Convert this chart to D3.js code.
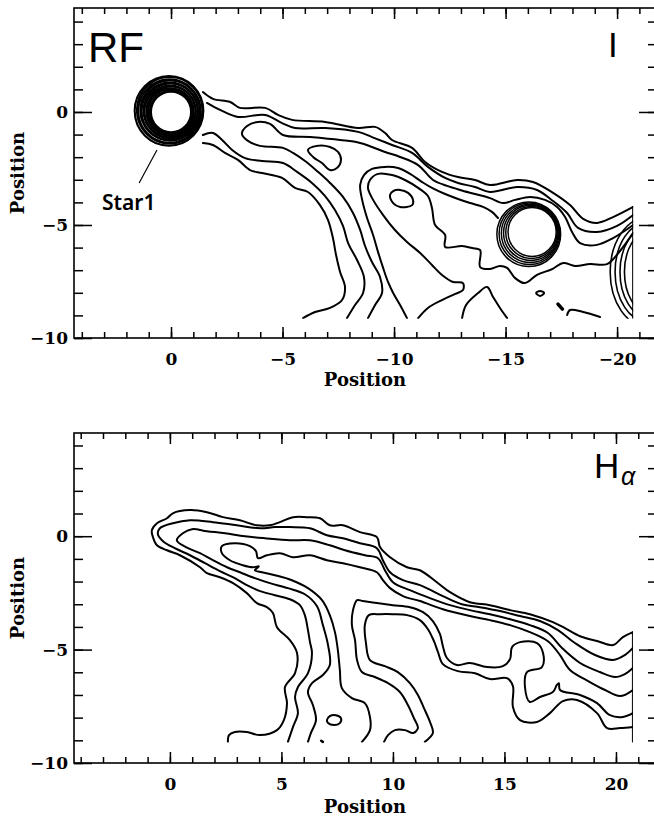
<!DOCTYPE html>
<html>
<head>
<meta charset="utf-8">
<script src="https://cdn.jsdelivr.net/npm/d3@7"></script>
<style>
  body { margin: 0; background: #fff; }
</style>
</head>
<body>
<svg id="chart" width="654" height="819"></svg>
<script>
// ---------- shared axis values ----------
const yTicks = [-10, -5, 0];
const iXTicks = [0, -5, -10, -15, -20];
const haXTicks = [0, 5, 10, 15, 20];

// ---------- upper panel (I) : contours in position units ----------
// star rings: [x, y, r]
const iStar1Rings = [[0,0,0.90],[0,0,0.95],[0.02,0.02,1.00],[0.03,0,1.05],[0,0.03,1.10],[0.04,0.02,1.15],
  [0.02,0.05,1.21],[0.05,0.03,1.27],[0.04,0.06,1.33],[0.07,0.04,1.40],[0.06,0.08,1.47],[0.09,0.05,1.54]];
const iStar2Rings = [[-16.19,-5.31,1.08],[-16.16,-5.33,1.15],[-16.13,-5.35,1.22],[-16.10,-5.37,1.29],
  [-16.07,-5.39,1.36],[-16.04,-5.41,1.43]];
// partly hidden source at the right edge: [x, y, rx, ry]
const iEdgeRings = [[-21.39,-7.08,1.70,2.43],[-21.39,-7.08,1.48,2.21],[-21.39,-7.08,1.26,1.99],[-21.39,-7.08,1.06,1.77]];

const iLine1 = [[-1.43,0.88],[-1.88,0.58],[-2.65,0.44],[-3.09,0.18],[-4.22,0.18],[-4.80,-0.13],[-5.43,-0.35],
  [-6.91,-0.44],[-8.39,-0.71],[-9.15,-0.66],[-9.60,-0.93],[-9.91,-1.24],[-10.81,-1.59],[-11.39,-2.21],
  [-12.15,-2.65],[-12.87,-2.88],[-13.63,-3.01],[-14.30,-3.23],[-15.52,-3.01],[-16.23,-3.10],[-17.13,-3.58],
  [-17.89,-4.12],[-18.48,-4.73],[-19.10,-4.91],[-19.82,-4.65],[-20.72,-4.20]];
const iLine2 = [[-1.61,0.40],[-2.20,0.09],[-3.00,-0.22],[-4.22,-0.13],[-4.98,-0.49],[-5.56,-0.71],[-6.91,-0.71],
  [-8.39,-0.88],[-9.01,-1.11],[-9.91,-1.46],[-10.81,-1.81],[-11.52,-2.43],[-12.29,-2.92],[-12.87,-3.14],
  [-13.63,-3.32],[-14.30,-3.54],[-15.52,-3.32],[-16.41,-3.45],[-17.13,-3.94],[-17.76,-4.47],[-18.25,-5.13],
  [-19.10,-5.31],[-20.00,-5.04],[-20.72,-4.56]];
const iTongue = [[-8.83,-9.12],[-9.15,-8.54],[-9.46,-8.01],[-9.37,-7.30],[-9.01,-6.64],[-8.70,-5.93],[-8.48,-5.22],
  [-8.16,-4.47],[-7.71,-3.76],[-7.13,-3.14],[-6.59,-2.65],[-6.01,-2.17],[-5.47,-1.81],[-5.02,-1.59],[-3.99,-1.50],
  [-3.45,-1.28],[-3.18,-0.97],[-3.41,-0.62],[-3.90,-0.44],[-4.44,-0.53],[-5.02,-1.02],[-6.23,-1.11],[-7.58,-1.24],
  [-8.48,-1.37],[-9.60,-1.77],[-10.27,-1.99],[-11.08,-2.35],[-11.75,-3.01],[-12.38,-3.27],[-12.96,-3.45],
  [-13.63,-3.63],[-14.30,-3.81],[-14.89,-4.03],[-15.43,-3.89],[-16.10,-3.76],[-16.77,-3.89],[-17.31,-4.20],
  [-17.67,-4.65],[-17.98,-5.31],[-18.34,-5.80],[-19.10,-5.88],[-19.82,-5.58],[-20.72,-5.00]];
const iHump1 = [[-10.58,-9.12],[-10.27,-8.54],[-9.96,-8.01],[-9.73,-7.52],[-9.51,-6.90],[-9.28,-6.19],[-9.06,-5.44],
  [-8.79,-4.69],[-8.57,-3.89],[-8.48,-3.23],[-8.65,-2.79],[-9.01,-2.52],[-9.60,-2.43],[-10.18,-2.48],[-10.72,-2.74],
  [-11.26,-3.10],[-11.70,-3.36],[-12.29,-3.63],[-12.87,-3.85],[-13.41,-4.03],[-13.99,-4.20],[-14.39,-4.42],[-14.66,-4.69]];
const iHump2 = [[-11.08,-9.12],[-11.52,-8.67],[-12.15,-8.32],[-12.74,-8.05],[-13.09,-7.88],[-13.09,-7.57],[-12.65,-7.52],
  [-12.15,-7.21],[-11.70,-6.77],[-11.17,-6.24],[-10.58,-5.75],[-10.04,-5.22],[-9.51,-4.56],[-9.06,-3.89],[-8.83,-3.36],
  [-8.92,-3.01],[-9.28,-2.74],[-9.91,-2.79],[-10.49,-3.01],[-11.08,-3.36],[-11.52,-3.72],[-11.70,-4.25],[-11.84,-5.00],
  [-12.29,-5.44],[-12.29,-5.97],[-13.05,-5.93],[-13.50,-6.02],[-13.86,-6.11],[-13.86,-6.86],[-14.30,-6.95],[-14.75,-6.81],
  [-15.07,-6.90],[-15.43,-7.35],[-15.87,-7.57],[-16.41,-7.21],[-17.09,-6.95],[-17.58,-6.68],[-18.12,-6.81],[-18.79,-6.73],
  [-19.55,-6.73],[-20.13,-6.15],[-20.72,-5.35]];
const iLower1 = [[-1.43,-1.02],[-1.88,-0.93],[-2.29,-1.24],[-2.74,-1.68],[-3.32,-2.04],[-4.08,-2.17],[-5.02,-2.26],
  [-5.65,-2.65],[-6.32,-3.14],[-6.91,-3.72],[-7.35,-4.34],[-7.71,-5.04],[-7.94,-5.80],[-8.34,-6.55],[-8.65,-7.30],
  [-8.61,-8.01],[-8.25,-8.54],[-7.89,-9.12]];
const iLower2 = [[-1.43,-1.37],[-1.88,-1.46],[-2.42,-1.81],[-3.00,-2.12],[-3.54,-2.57],[-4.08,-2.70],[-4.98,-2.92],
  [-5.56,-3.36],[-6.14,-3.54],[-6.68,-4.12],[-7.04,-4.78],[-7.26,-5.58],[-7.40,-6.33],[-7.58,-7.08],[-7.80,-7.74],
  [-7.67,-8.32],[-7.13,-8.67],[-6.46,-8.85],[-5.92,-9.12]];
const iLoop1 = [[-6.14,-1.68],[-6.55,-1.50],[-7.13,-1.55],[-7.49,-1.77],[-7.62,-2.12],[-7.44,-2.48],[-7.13,-2.57],[-6.77,-2.26],[-6.37,-1.99]];
const iLoop2 = [[-9.82,-3.67],[-9.96,-3.50],[-10.27,-3.45],[-10.63,-3.58],[-10.85,-3.89],[-10.81,-4.12],[-10.27,-4.20],[-9.96,-4.03]];
const iSpeck = [[-16.37,-8.01],[-16.55,-7.92],[-16.73,-8.01],[-16.55,-8.14]];
const iArch = [[-13.05,-9.12],[-13.23,-8.54],[-13.77,-8.01],[-14.17,-7.74],[-14.44,-8.19],[-14.75,-8.67],[-15.07,-9.12]];
const iDot = [[-17.35,-8.50],[-17.55,-8.72]];
const iTail = [[-17.76,-8.98],[-17.89,-8.76],[-18.48,-8.85],[-19.24,-9.07]];
const iEdge = [[-20.72,-4.20],[-20.72,-9.12]];
const iPointer = [[1.43,-3.14],[0.63,-1.68]];

// ---------- lower panel (H alpha) ----------
const haLine1 = [[20.76,-4.23],[20.31,-4.45],[19.87,-4.80],[19.19,-4.63],[18.39,-4.41],[17.71,-4.05],[17.17,-3.79],
  [16.14,-3.44],[15.25,-3.26],[14.35,-3.04],[13.45,-2.91],[12.56,-2.47],[11.97,-2.03],[11.21,-1.50],[10.63,-1.37],
  [9.87,-0.93],[9.42,-0.48],[9.28,-0.04],[8.52,0.18],[7.76,0.48],[7.17,0.48],[6.73,0.79],[6.14,0.84],[5.52,0.84],
  [4.93,0.62],[4.48,0.48],[3.90,0.48],[3.14,0.70],[2.38,0.84],[1.66,1.06],[0.90,1.15],[0.13,1.01],[-0.13,0.79],
  [-0.58,0.57],[-0.81,0.26],[-0.76,-0.04],[-0.58,-0.40],[-0.13,-0.62],[0.45,-0.84],[1.35,-1.37],[1.66,-1.63],
  [2.24,-1.81],[2.83,-2.07],[3.45,-2.51],[3.90,-2.95],[4.35,-3.13],[4.62,-3.39],[4.80,-4.01],[5.38,-4.58],[5.70,-5.15],
  [5.61,-6.04],[5.16,-6.65],[5.25,-7.36],[5.11,-8.11],[4.80,-8.55],[4.04,-8.77],[3.45,-8.63],[2.91,-8.63],[2.65,-8.77],[2.60,-9.07]];
const haLine2 = [[20.76,-4.93],[20.40,-5.24],[19.87,-5.46],[19.06,-5.24],[18.16,-4.71],[17.40,-4.14],[16.59,-3.74],
  [15.70,-3.52],[14.80,-3.30],[13.90,-3.13],[13.09,-3.00],[12.24,-2.64],[11.21,-2.16],[10.45,-1.94],[9.87,-1.59],
  [9.55,-1.06],[9.28,-0.53],[8.52,-0.31],[7.76,-0.09],[7.04,0.04],[6.28,0.35],[5.38,0.40],[4.71,0.40],[4.04,0.35],
  [3.00,0.48],[1.93,0.62],[0.90,0.70],[0.13,0.57],[-0.45,0.35],[-0.54,0.09],[-0.31,-0.22],[0.22,-0.53],[0.90,-0.84],
  [1.57,-1.19],[2.24,-1.54],[2.91,-1.85],[3.45,-2.16],[4.04,-2.42],[4.71,-2.60],[5.38,-2.78],[5.83,-3.04],[6.05,-3.48],
  [6.19,-4.14],[6.28,-4.67],[6.37,-5.15],[6.19,-6.04],[5.74,-6.65],[5.61,-7.09],[5.74,-7.80],[5.52,-8.41],[5.29,-9.07]];
const haLine3 = [[20.76,-5.81],[20.40,-6.08],[19.96,-6.21],[19.28,-5.99],[18.39,-5.59],[17.58,-4.93],[16.95,-4.27],
  [16.14,-3.92],[15.25,-3.66],[14.35,-3.44],[13.45,-3.26],[12.56,-3.04],[11.66,-2.73],[10.76,-2.38],[10.00,-2.03],
  [9.64,-1.50],[9.33,-0.97],[8.74,-0.84],[7.85,-0.62],[7.17,-0.40],[6.28,-0.18],[5.38,-0.18],[4.26,-0.09],[3.36,0.00],
  [2.47,0.13],[1.66,0.22],[0.99,0.31],[0.58,0.13],[0.31,-0.18],[0.72,-0.48],[1.35,-0.75],[1.93,-1.06],[2.56,-1.37],
  [3.14,-1.59],[3.81,-1.85],[4.48,-2.07],[5.29,-2.29],[6.05,-2.56],[6.59,-3.08],[6.86,-3.92],[7.09,-4.80],[7.17,-5.68],
  [6.86,-6.12],[6.37,-6.48],[6.19,-6.87],[6.41,-7.44],[6.55,-8.11],[6.32,-8.68],[6.19,-9.07]];
const haLine4 = [[20.76,-6.78],[20.18,-7.05],[19.51,-6.78],[18.83,-6.43],[17.94,-5.90],[17.49,-5.24],[16.95,-4.63],
  [16.14,-4.23],[15.25,-3.92],[14.35,-3.70],[13.45,-3.52],[12.24,-3.22],[11.21,-2.86],[10.45,-2.64],[9.87,-2.29],
  [9.55,-1.94],[9.28,-1.59],[8.52,-1.37],[7.76,-1.19],[7.04,-1.06],[6.28,-0.84],[5.52,-0.93],[4.93,-0.75],[4.35,-0.84],
  [3.95,-0.97],[3.86,-0.66],[3.59,-0.44],[2.91,-0.31],[2.33,-0.44],[2.33,-0.75],[2.69,-1.06],[3.27,-1.28],[3.72,-1.37],
  [3.99,-1.33],[3.81,-1.50],[4.13,-1.59],[4.71,-1.72],[5.47,-1.94],[6.19,-2.29],[6.82,-2.82],[7.17,-3.48],[7.40,-4.23],
  [7.53,-5.02],[7.62,-5.90],[7.71,-6.70],[8.16,-7.14],[8.74,-7.36],[8.97,-7.97],[8.97,-8.55],[8.61,-9.07]];
const haOuter = [[9.60,-9.07],[9.78,-8.77],[10.09,-8.55],[10.54,-8.55],[10.90,-8.68],[11.12,-8.46],[10.94,-8.02],
  [10.67,-7.44],[10.31,-6.87],[9.78,-6.48],[9.19,-6.21],[8.61,-5.99],[8.39,-5.46],[8.30,-4.58],[8.16,-3.92],[8.21,-3.26],
  [8.39,-2.82],[8.65,-2.86],[9.28,-2.95],[10.00,-3.04],[10.76,-3.13],[11.35,-3.35],[11.79,-3.74],[12.11,-4.32],
  [12.24,-4.85],[12.42,-5.37],[12.87,-5.68],[13.45,-5.59],[14.22,-5.77],[14.93,-5.73],[15.25,-5.42],[15.34,-4.89],
  [15.70,-4.67],[16.46,-4.71],[16.73,-5.15],[16.68,-5.77],[16.01,-5.99],[15.92,-6.65],[16.14,-7.31],[16.59,-7.09],
  [17.17,-6.87],[17.35,-6.56],[17.44,-6.48],[17.49,-6.78],[18.39,-7.00],[19.15,-7.36],[19.73,-7.89],[20.31,-7.97],[20.76,-7.80]];
const haInner = [[11.43,-9.07],[11.79,-8.68],[11.66,-8.19],[11.39,-7.58],[11.12,-7.00],[10.76,-6.48],[10.22,-5.99],
  [9.64,-5.73],[8.97,-5.46],[8.79,-4.71],[8.74,-3.92],[8.92,-3.48],[9.42,-3.44],[10.00,-3.44],[10.63,-3.48],[11.21,-3.70],
  [11.57,-4.10],[11.84,-4.63],[12.02,-5.11],[12.24,-5.64],[12.91,-5.95],[13.68,-6.04],[14.35,-6.30],[15.11,-6.26],
  [15.38,-6.61],[15.38,-7.53],[15.70,-8.11],[16.46,-8.19],[17.04,-7.80],[17.62,-7.27],[18.25,-7.22],[19.15,-7.80],
  [19.60,-8.46],[20.18,-8.46],[20.76,-8.41]];
const haOval = [[7.04,-8.11],[7.17,-7.93],[7.44,-7.89],[7.67,-8.02],[7.62,-8.24],[7.35,-8.33],[7.09,-8.24]];
const haDot = [[6.78,-9.02],[6.86,-9.07]];
const haEdge = [[20.76,-4.23],[20.76,-9.07]];

// ---------- drawing ----------
const svg = d3.select("#chart");
const serif = "'DejaVu Serif', 'Liberation Serif', serif";
const sans = "'Liberation Sans', Arial, sans-serif";

function drawPanel(p) {
    let x = d3.scaleLinear().domain(p.xDomain).range([74, 655]);
    let y = d3.scaleLinear().domain([-10, p.yMax]).range([p.bottom, p.top]);

    let g = svg.append('g');

    // frame
    g.append('rect')
        .attr('x', 74).attr('y', p.top)
        .attr('width', 581).attr('height', p.bottom - p.top)
        .attr('fill', 'none').attr('stroke', '#000').attr('stroke-width', 1.6);

    let lo = Math.ceil(Math.min(...p.xDomain)), hi = Math.floor(Math.max(...p.xDomain));
    let xMinor = d3.range(lo, hi + 1);
    let yMinor = d3.range(-10, Math.floor(p.yMax) + 1);

    let addAxis = (axis, tx, ty) => {
        let a = g.append('g')
            .attr('transform', `translate(${tx},${ty})`)
            .call(axis);
        a.select('.domain').remove();
        a.selectAll('line').attr('stroke-width', 1.5);
        a.selectAll('text')
            .attr('font-family', serif)
            .attr('font-weight', 'bold')
            .attr('font-size', 17)
            .attr('fill', '#000');
        return a;
    };

    // top and bottom ticks
    addAxis(d3.axisTop(x).tickValues(xMinor).tickSize(-6).tickFormat(''), 0, p.top);
    addAxis(d3.axisTop(x).tickValues(p.xTicks).tickSize(-11).tickFormat(''), 0, p.top);
    addAxis(d3.axisBottom(x).tickValues(xMinor).tickSize(-6).tickFormat(''), 0, p.bottom);
    addAxis(d3.axisBottom(x).tickValues(p.xTicks).tickSize(-11).tickPadding(15).tickFormat(d3.format('d')), 0, p.bottom);
    // left and right ticks
    addAxis(d3.axisLeft(y).tickValues(yMinor).tickSize(-9).tickFormat(''), 74, 0);
    addAxis(d3.axisLeft(y).tickValues(yTicks).tickSize(-18).tickPadding(6).tickFormat(d3.format('d')), 74, 0);
    addAxis(d3.axisRight(y).tickValues(yMinor).tickSize(-7).tickFormat(''), 655, 0);
    addAxis(d3.axisRight(y).tickValues(yTicks).tickSize(-16).tickFormat(''), 655, 0);

    // axis titles
    g.append('text')
        .attr('x', 365).attr('y', p.xTitleY)
        .attr('text-anchor', 'middle')
        .attr('font-family', serif).attr('font-weight', 'bold').attr('font-size', 18)
        .text('Position');
    g.append('text')
        .attr('transform', `translate(24,${(p.top + p.bottom) / 2}) rotate(-90)`)
        .attr('text-anchor', 'middle')
        .attr('font-family', serif).attr('font-weight', 'bold').attr('font-size', 18)
        .text('Position');

    // contours
    let clipId = 'clip-' + p.name;
    svg.append('clipPath').attr('id', clipId)
        .append('rect')
        .attr('x', 74).attr('y', p.top)
        .attr('width', x(p.edgeX) - 74)
        .attr('height', y(p.edgeY) - p.top);

    let c = g.append('g')
        .attr('clip-path', `url(#${clipId})`)
        .attr('fill', 'none')
        .attr('stroke', '#000')
        .attr('stroke-linejoin', 'round')
        .attr('stroke-linecap', 'round');

    let open = d3.line().x(d => x(d[0])).y(d => y(d[1])).curve(d3.curveCatmullRom.alpha(0.5));
    let closed = d3.line().x(d => x(d[0])).y(d => y(d[1])).curve(d3.curveCatmullRomClosed.alpha(0.5));

    c.selectAll('path.open')
        .data(p.lines)
        .join('path')
        .attr('class', 'open')
        .attr('d', open)
        .attr('stroke-width', 2);

    c.selectAll('path.closed')
        .data(p.loops)
        .join('path')
        .attr('class', 'closed')
        .attr('d', closed)
        .attr('stroke-width', 2);

    // concentric rings, one group per source
    p.ringSets.forEach(set => {
        c.append('g')
            .selectAll('ellipse')
            .data(set.rings)
            .join('ellipse')
            .attr('cx', d => x(d[0]))
            .attr('cy', d => y(d[1]))
            .attr('rx', d => Math.abs(x(d[2]) - x(0)))
            .attr('ry', d => Math.abs(y(d.length > 3 ? d[3] : d[2]) - y(0)))
            .attr('stroke-width', set.width);
    });

    return { x, y, g };
}

// upper panel
let upper = drawPanel({
    name: 'i', xDomain: [4.35, -21.7], yMax: 4.6, top: 8, bottom: 338,
    xTicks: iXTicks, xTitleY: 386, edgeX: -20.72, edgeY: -9.15,
    lines: [iLine1, iLine2, iTongue, iHump1, iHump2, iLower1, iLower2, iArch, iTail, iEdge],
    loops: [iLoop1, iLoop2, iSpeck],
    ringSets: [
        { rings: iStar1Rings, width: 2.1 },
        { rings: iStar2Rings, width: 1.5 },
        { rings: iEdgeRings, width: 1.6 }
    ]
});
upper.g.append('path')
    .attr('d', d3.line().x(d => upper.x(d[0])).y(d => upper.y(d[1]))(iDot))
    .attr('stroke', '#000').attr('stroke-width', 3.5).attr('stroke-linecap', 'round');
upper.g.append('path')
    .attr('d', d3.line().x(d => upper.x(d[0])).y(d => upper.y(d[1]))(iPointer))
    .attr('stroke', '#000').attr('stroke-width', 1.2);
upper.g.append('text')
    .attr('x', 88).attr('y', 62)
    .attr('font-family', sans).attr('font-size', 42)
    .text('RF');
upper.g.append('text')
    .attr('x', 608).attr('y', 57)
    .attr('font-family', sans).attr('font-size', 35)
    .text('I');
upper.g.append('text')
    .attr('x', 102).attr('y', 210)
    .attr('font-family', "'Noto Sans', 'DejaVu Sans', sans-serif").attr('font-weight', 600).attr('font-size', 21)
    .text('Star1');

// lower panel
let lower = drawPanel({
    name: 'ha', xDomain: [-4.30, 21.75], yMax: 4.55, top: 433, bottom: 763,
    xTicks: haXTicks, xTitleY: 813, edgeX: 20.76, edgeY: -9.1,
    lines: [haLine1, haLine2, haLine3, haLine4, haOuter, haInner, haEdge],
    loops: [haOval],
    ringSets: []
});
lower.g.append('path')
    .attr('d', d3.line().x(d => lower.x(d[0])).y(d => lower.y(d[1]))(haDot))
    .attr('stroke', '#000').attr('stroke-width', 2.5).attr('stroke-linecap', 'round');
lower.g.append('text')
    .attr('x', 594).attr('y', 478)
    .attr('font-family', sans).attr('font-size', 35)
    .text('H');
lower.g.append('text')
    .attr('x', 621).attr('y', 485)
    .attr('font-family', sans).attr('font-style', 'italic').attr('font-size', 25)
    .text('α');
</script>
</body>
</html>
